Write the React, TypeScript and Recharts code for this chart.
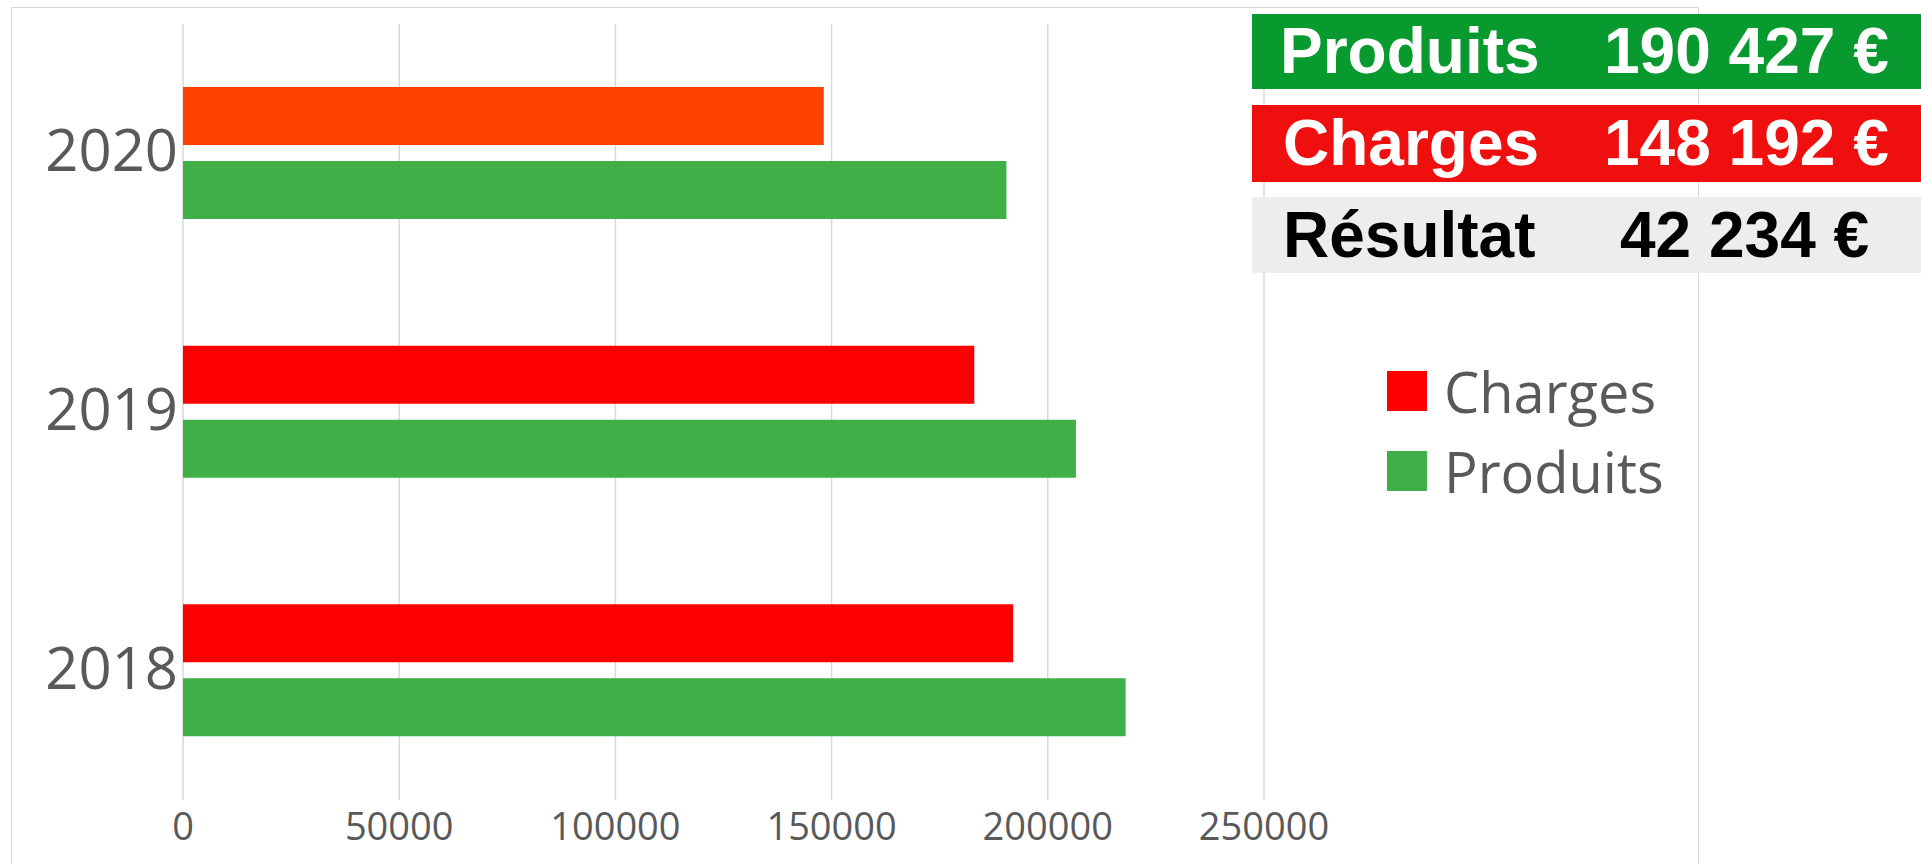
import { BarChart, Bar, XAxis, YAxis, CartesianGrid, Legend, Cell } from 'recharts'

// values
const years = ['2020', '2019', '2018']
const charges = [148192, 183000, 192000]
const produits = [190427, 206500, 218000]
const xTicks = [0, 50000, 100000, 150000, 200000, 250000]

const summaryLabels = ['Produits', 'Charges', 'Résultat']
const summaryValues = ['190 427 €', '148 192 €', '42 234 €']

const chargesColors = ['#FF4000', '#FF0000', '#FF0000']
const produitsColor = '#41AF48'
const summaryBg = ['#089A2F', '#F00F0F', '#EDEDED']
const summaryFg = ['#FFFFFF', '#FFFFFF', '#000000']
const summaryTop = [14, 105, 197]
const summaryHeight = [75, 77, 76]
const summaryValueX = [1604, 1604, 1620]

const data = years.map((year, i) => ({
  year,
  Charges: charges[i],
  Produits: produits[i],
}))

const axisText = '#595959'

const XTick = (props: any) => {
  const { x, y, payload } = props
  return (
    <text x={x} y={y + 40} textAnchor="middle" fill={axisText} fontSize={38} fontFamily="'Open Sans', sans-serif">
      {payload.value}
    </text>
  )
}

const YTick = (props: any) => {
  const { x, y, payload } = props
  return (
    <text x={x - 5} y={y + 18} textAnchor="end" fill={axisText} fontSize={58} fontFamily="'Open Sans', sans-serif">
      {payload.value}
    </text>
  )
}

const LegendContent = () => {
  const items = [
    { name: 'Charges', color: '#FF0000' },
    { name: 'Produits', color: produitsColor },
  ]
  return (
    <div>
      {items.map((item) => (
        <div key={item.name} style={{ display: 'flex', alignItems: 'center', height: 80 }}>
          <div style={{ width: 40, height: 40, background: item.color, marginRight: 17 }} />
          <span style={{ fontFamily: "'Open Sans', sans-serif", fontSize: 56, color: axisText, lineHeight: '80px' }}>
            {item.name}
          </span>
        </div>
      ))}
    </div>
  )
}

export default function App() {
  return (
    <div style={{ position: 'fixed', left: 0, top: 0, width: 1921, height: 864, overflow: 'hidden', background: '#fff' }}>
      {/* chart area border */}
      <div
        style={{
          position: 'absolute',
          left: 11,
          top: 7,
          width: 1688,
          height: 900,
          border: '1.5px solid #d9d9d9',
          boxSizing: 'border-box',
        }}
      />
      <div style={{ position: 'absolute', left: 0, top: 0 }}>
        <BarChart
          width={1921}
          height={864}
          data={data}
          layout="vertical"
          margin={{ top: 24, right: 657, bottom: 24, left: 13 }}
          barSize={58}
          barGap={16}
        >
          <CartesianGrid horizontal={false} stroke="#d9d9d9" strokeWidth={1.5} />
          <XAxis
            type="number"
            domain={[0, 250000]}
            ticks={xTicks}
            interval={0}
            axisLine={false}
            tickLine={false}
            tickSize={0}
            tickMargin={0}
            height={40}
            tick={<XTick />}
          />
          <YAxis
            type="category"
            dataKey="year"
            width={170}
            axisLine={false}
            tickLine={false}
            tickSize={0}
            tickMargin={0}
            tick={<YTick />}
          />
          <Legend
            layout="vertical"
            align="center"
            verticalAlign="middle"
            content={<LegendContent />}
            wrapperStyle={{ left: 1387, top: 351, width: 320, height: 160 }}
          />
          <Bar dataKey="Charges" isAnimationActive={false}>
            {data.map((d, i) => (
              <Cell key={d.year} fill={chargesColors[i]} />
            ))}
          </Bar>
          <Bar dataKey="Produits" fill={produitsColor} isAnimationActive={false} />
        </BarChart>
      </div>
      {summaryLabels.map((label, i) => (
        <div
          key={label}
          style={{
            position: 'absolute',
            left: 1252,
            top: summaryTop[i],
            width: 669,
            height: summaryHeight[i],
            background: summaryBg[i],
            color: summaryFg[i],
            fontFamily: "'Liberation Sans', Arial, sans-serif",
            fontWeight: 'bold',
            fontSize: 64,
            lineHeight: `${summaryHeight[i]}px`,
          }}
        >
          <span style={{ position: 'absolute', left: 28 + (i === 0 ? 0 : 3) }}>{label}</span>
          <span style={{ position: 'absolute', left: summaryValueX[i] - 1252 }}>{summaryValues[i]}</span>
        </div>
      ))}
    </div>
  )
}
